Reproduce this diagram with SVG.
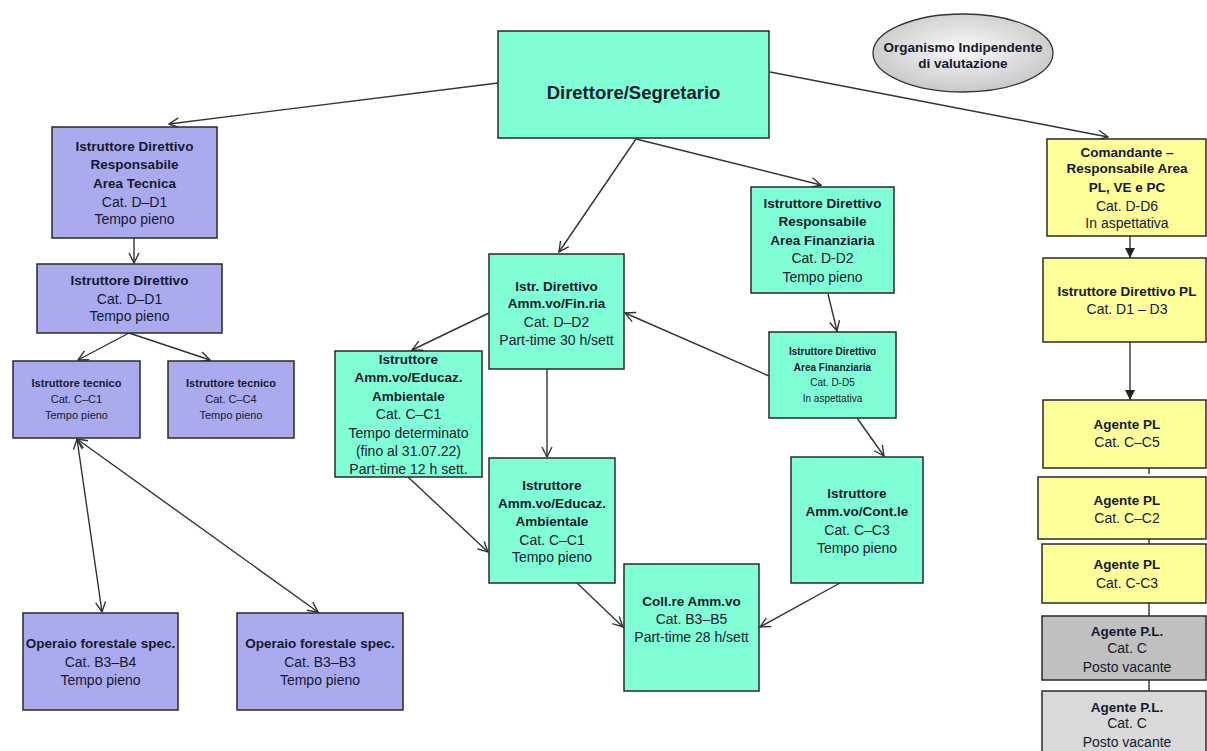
<svg xmlns="http://www.w3.org/2000/svg" width="1207" height="751" viewBox="0 0 1207 751">
<style>
text{font-family:"Liberation Sans",Arial,sans-serif;fill:#141a2e;text-anchor:middle;font-size:14px}
.b{font-weight:bold;font-size:13.5px}
.s{font-size:11px}
.xs{font-size:10px}
.big{font-size:18.5px;font-weight:bold}
.box{stroke:#2a2a2a;stroke-width:1.5}
.pu{fill:#aaaaee}
.tq{fill:#80ffd6}
.ye{fill:#ffff99}
.g1{fill:#c0c0c0}
.g2{fill:#d9d9d9}
.c{stroke:#333;stroke-width:1.4;fill:none}
</style>
<defs>
<marker id="open" viewBox="0 0 12 12" refX="11" refY="6" markerWidth="12" markerHeight="12" markerUnits="userSpaceOnUse" orient="auto-start-reverse">
<path d="M1,1 L11,6 L1,11" fill="none" stroke="#333" stroke-width="1.4"/>
</marker>
<marker id="fill" viewBox="0 0 10 10" refX="10" refY="5" markerWidth="10" markerHeight="10" markerUnits="userSpaceOnUse" orient="auto">
<path d="M0,0 L10,5 L0,10 Z" fill="#222"/>
</marker>
<radialGradient id="eg" cx="50%" cy="45%" r="60%">
<stop offset="0" stop-color="#fafafa"/>
<stop offset="1" stop-color="#c4c4c4"/>
</radialGradient>
</defs>
<rect width="1207" height="751" fill="#fff"/>

<g id="connectors">
<line class="c" x1="498" y1="83" x2="169" y2="124" marker-end="url(#open)"/>
<line class="c" x1="770" y1="72" x2="1108" y2="137" marker-end="url(#open)"/>
<line class="c" x1="636" y1="139" x2="559" y2="252" marker-end="url(#open)"/>
<line class="c" x1="636" y1="139" x2="821" y2="185" marker-end="url(#open)"/>
<line class="c" x1="134" y1="238" x2="134" y2="263" marker-end="url(#open)"/>
<line class="c" x1="129" y1="333" x2="78" y2="360" marker-end="url(#open)"/>
<line class="c" x1="129" y1="333" x2="210" y2="360" marker-end="url(#open)"/>
<line class="c" x1="77" y1="439" x2="102" y2="612" marker-start="url(#open)" marker-end="url(#open)"/>
<line class="c" x1="77" y1="439" x2="318" y2="612" marker-start="url(#open)" marker-end="url(#open)"/>
<line class="c" x1="489" y1="313" x2="412" y2="350" marker-end="url(#open)"/>
<line class="c" x1="547" y1="369" x2="547" y2="457" marker-end="url(#open)"/>
<line class="c" x1="408" y1="477" x2="488" y2="552" marker-end="url(#open)"/>
<line class="c" x1="828" y1="294" x2="837" y2="331" marker-end="url(#open)"/>
<line class="c" x1="769" y1="376" x2="625" y2="313" marker-end="url(#open)"/>
<line class="c" x1="857" y1="418" x2="884" y2="456" marker-end="url(#open)"/>
<line class="c" x1="577" y1="583" x2="623" y2="627" marker-end="url(#open)"/>
<line class="c" x1="840" y1="583" x2="760" y2="627" marker-end="url(#open)"/>
<line class="c" x1="1130" y1="223" x2="1130" y2="258" marker-end="url(#fill)"/>
<line class="c" x1="1130" y1="342" x2="1130" y2="400" marker-end="url(#fill)"/>
<line class="c" x1="1149" y1="462" x2="1149" y2="474"/>
<line class="c" x1="1149" y1="533" x2="1149" y2="546"/>
<line class="c" x1="1149" y1="602" x2="1149" y2="617"/>
<line class="c" x1="1149" y1="679" x2="1149" y2="692"/>
</g>

<g id="n-direttore">
<rect class="box tq" x="498" y="31" width="271" height="107"/>
<text class="big" x="633.5" y="99">Direttore/Segretario</text>
</g>

<g id="n-oiv">
<ellipse cx="963" cy="53" rx="90" ry="39" fill="url(#eg)" stroke="#333" stroke-width="1.3"/>
<text class="b" x="963" y="52">Organismo Indipendente</text>
<text class="b" x="963" y="68">di valutazione</text>
</g>

<g id="n-resp-tecnica">
<rect class="box pu" x="52" y="127" width="165" height="111"/>
<text class="b" x="134.5" y="151">Istruttore Direttivo</text>
<text class="b" x="134.5" y="169">Responsabile</text>
<text class="b" x="134.5" y="188">Area Tecnica</text>
<text x="134.5" y="207">Cat. D–D1</text>
<text x="134.5" y="224">Tempo pieno</text>
</g>

<g id="n-istr-dir">
<rect class="box pu" x="37" y="264" width="185" height="69"/>
<text class="b" x="129.5" y="285">Istruttore Direttivo</text>
<text x="129.5" y="304">Cat. D–D1</text>
<text x="129.5" y="321">Tempo pieno</text>
</g>

<g id="n-tecnico-c1">
<rect class="box pu" x="13" y="361" width="127" height="77"/>
<text class="b s" x="76.5" y="387">Istruttore tecnico</text>
<text class="s" x="76.5" y="403">Cat. C–C1</text>
<text class="s" x="76.5" y="419">Tempo pieno</text>
</g>

<g id="n-tecnico-c4">
<rect class="box pu" x="168" y="361" width="126" height="77"/>
<text class="b s" x="231" y="387">Istruttore tecnico</text>
<text class="s" x="231" y="403">Cat. C–C4</text>
<text class="s" x="231" y="419">Tempo pieno</text>
</g>

<g id="n-operaio-b4">
<rect class="box pu" x="23" y="613" width="155" height="97"/>
<text class="b" x="100.5" y="648">Operaio forestale spec.</text>
<text x="100.5" y="667">Cat. B3–B4</text>
<text x="100.5" y="685">Tempo pieno</text>
</g>

<g id="n-operaio-b3">
<rect class="box pu" x="237" y="613" width="166" height="97"/>
<text class="b" x="320" y="648">Operaio forestale spec.</text>
<text x="320" y="667">Cat. B3–B3</text>
<text x="320" y="685">Tempo pieno</text>
</g>

<g id="n-istr-fin">
<rect class="box tq" x="489" y="254" width="135" height="115"/>
<text class="b" x="556.5" y="291">Istr. Direttivo</text>
<text class="b" x="556.5" y="308">Amm.vo/Fin.ria</text>
<text x="556.5" y="327">Cat. D–D2</text>
<text x="556.5" y="345">Part-time 30 h/sett</text>
</g>

<g id="n-educ-det">
<rect class="box tq" x="335" y="351" width="147" height="126"/>
<text class="b" x="408.5" y="364">Istruttore</text>
<text class="b" x="408.5" y="382">Amm.vo/Educaz.</text>
<text class="b" x="408.5" y="401">Ambientale</text>
<text x="408.5" y="419">Cat. C–C1</text>
<text x="408.5" y="438">Tempo determinato</text>
<text x="408.5" y="456">(fino al 31.07.22)</text>
<text x="408.5" y="474">Part-time 12 h sett.</text>
</g>

<g id="n-educ-pieno">
<rect class="box tq" x="489" y="458" width="126" height="125"/>
<text class="b" x="552" y="490">Istruttore</text>
<text class="b" x="552" y="508">Amm.vo/Educaz.</text>
<text class="b" x="552" y="526">Ambientale</text>
<text x="552" y="545">Cat. C–C1</text>
<text x="552" y="562">Tempo pieno</text>
</g>

<g id="n-resp-fin">
<rect class="box tq" x="751" y="187" width="143" height="106"/>
<text class="b" x="822.5" y="208">Istruttore Direttivo</text>
<text class="b" x="822.5" y="226">Responsabile</text>
<text class="b" x="822.5" y="245">Area Finanziaria</text>
<text x="822.5" y="263">Cat. D-D2</text>
<text x="822.5" y="282">Tempo pieno</text>
</g>

<g id="n-dir-fin-d5">
<rect class="box tq" x="769" y="332" width="127" height="86"/>
<text class="b xs" x="832.5" y="355">Istruttore Direttivo</text>
<text class="b xs" x="832.5" y="371">Area Finanziaria</text>
<text class="xs" x="832.5" y="386">Cat. D-D5</text>
<text class="xs" x="832.5" y="402">In aspettativa</text>
</g>

<g id="n-contabile">
<rect class="box tq" x="791" y="457" width="132" height="126"/>
<text class="b" x="857" y="498">Istruttore</text>
<text class="b" x="857" y="516">Amm.vo/Cont.le</text>
<text x="857" y="535">Cat. C–C3</text>
<text x="857" y="553">Tempo pieno</text>
</g>

<g id="n-collaboratore">
<rect class="box tq" x="624" y="564" width="135" height="127"/>
<text class="b" x="691.5" y="606">Coll.re Amm.vo</text>
<text x="691.5" y="624">Cat. B3–B5</text>
<text x="691.5" y="642">Part-time 28 h/sett</text>
</g>

<g id="n-comandante">
<rect class="box ye" x="1047" y="139" width="159" height="97"/>
<text class="b" x="1127" y="157">Comandante –</text>
<text class="b" x="1127" y="173">Responsabile Area</text>
<text class="b" x="1127" y="192">PL, VE e PC</text>
<text x="1127" y="211">Cat. D-D6</text>
<text x="1127" y="228">In aspettativa</text>
</g>

<g id="n-istr-pl">
<rect class="box ye" x="1043" y="258" width="163" height="84"/>
<text class="b" x="1127" y="296">Istruttore Direttivo PL</text>
<text x="1127" y="314">Cat. D1 – D3</text>
</g>

<g id="n-agente-c5">
<rect class="box ye" x="1043" y="400" width="163" height="68"/>
<text class="b" x="1127" y="429">Agente PL</text>
<text x="1127" y="447">Cat. C–C5</text>
</g>

<g id="n-agente-c2">
<rect class="box ye" x="1038" y="477" width="168" height="62"/>
<text class="b" x="1127" y="505">Agente PL</text>
<text x="1127" y="523">Cat. C–C2</text>
</g>

<g id="n-agente-c3">
<rect class="box ye" x="1042" y="544" width="164" height="59"/>
<text class="b" x="1127" y="569">Agente PL</text>
<text x="1127" y="588">Cat. C-C3</text>
</g>

<g id="n-vacante-1">
<rect class="box g1" x="1042" y="616" width="164" height="64"/>
<text class="b" x="1127" y="636">Agente P.L.</text>
<text x="1127" y="653">Cat. C</text>
<text x="1127" y="672">Posto vacante</text>
</g>

<g id="n-vacante-2">
<rect class="box g2" x="1042" y="691" width="164" height="70"/>
<text class="b" x="1127" y="712">Agente P.L.</text>
<text x="1127" y="728">Cat. C</text>
<text x="1127" y="747">Posto vacante</text>
</g>
</svg>
